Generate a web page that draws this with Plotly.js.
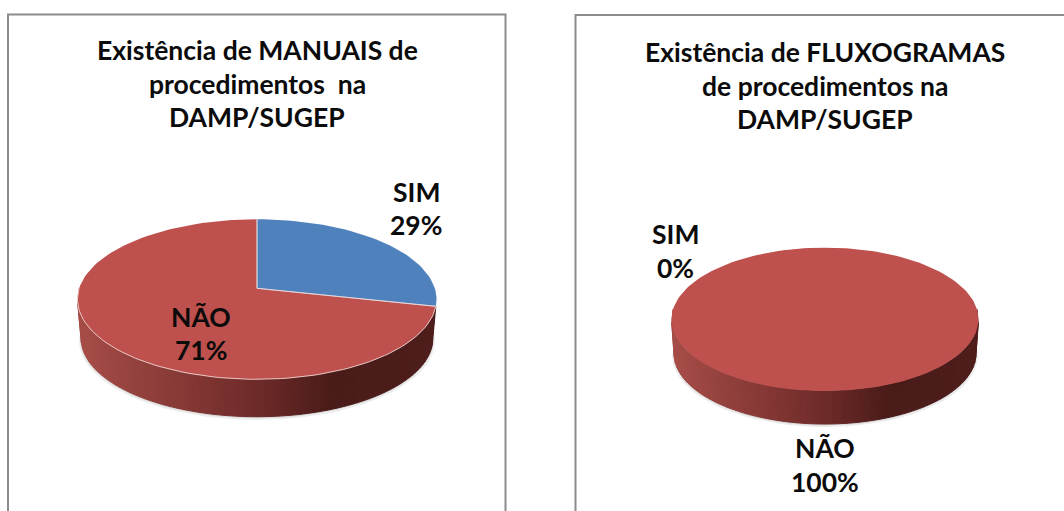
<!DOCTYPE html>
<html>
<head>
<meta charset="utf-8">
<script src="https://cdn.plot.ly/plotly-3.0.1.min.js"></script>
<style>html,body{margin:0;padding:0;background:#fff;overflow:hidden}#c{width:1064px;height:511px}</style>
</head>
<body>
<div id="c"></div>
<script>
// ---- data ----
const categories = ['SIM', 'NÃO'];
const manuaisValues = [2, 5];        // 29% / 71%
const fluxogramasValues = [0, 7];    // 0% / 100%
const manuaisTitle = ['Existência de MANUAIS de', 'procedimentos  na', 'DAMP/SUGEP'];
const fluxogramasTitle = ['Existência de FLUXOGRAMAS', 'de procedimentos na', 'DAMP/SUGEP'];
const sliceColors = ['#4F81BD', '#BE504D'];

// ---- geometry and style (page pixels) ----
const FONT = 'Lato, Carlito, sans-serif';
const TITLE_SIZE = 26.5, LABEL_SIZE = 26.5;
const K = 0.1375;
const pieA = {cx: 257, hub: 288.3, a: 78.5, b: 177.8, depth: 39.2, baseScale: 0.98, rim: true,
  labelPos: [[416, 192, 225], [201, 317, 350]], titleX: 257, titleY: [50, 83.5, 117]};
const pieB = {cx: 825, hub: 309.5, a: 70.3, b: 152, depth: 34.3, baseScale: 0.984, rim: false,
  labelPos: [[675, 234, 268], [825, 448, 482]], titleX: 825, titleY: [52, 85.5, 119]};

const traces = [];
const annotations = [];

function rimPoint(g, t, s, d) {
  s = s || 1; d = d || 0;
  const u = Math.sin(t), v = Math.cos(t), w = 1 + K * v;
  return [g.cx + s * g.b * u / w, g.hub + d - s * g.a * v / w];
}
function poly(xs, ys, color, lw) {
  traces.push({type: 'scatter', mode: 'lines', x: xs, y: ys, fill: 'toself', fillcolor: color,
    line: {color: lw ? color : 'rgba(0,0,0,0)', width: lw || 0}, hoverinfo: 'skip', showlegend: false});
}
function path(xs, ys, color, lw) {
  traces.push({type: 'scatter', mode: 'lines', x: xs, y: ys,
    line: {color: color, width: lw}, hoverinfo: 'skip', showlegend: false});
}
function lerp(a, b, f) { return a.map((c, i) => c + (b[i] - c) * f); }
function sideColor(u) {
  const stops = [[-1, [166, 76, 71]], [0, [110, 42, 40]], [0.42, [73, 27, 25]], [1, [78, 29, 27]]];
  for (let i = 0; i < stops.length - 1; i++) {
    if (u <= stops[i + 1][0]) {
      const c = lerp(stops[i][1], stops[i + 1][1], (u - stops[i][0]) / (stops[i + 1][0] - stops[i][0]));
      return 'rgb(' + c.map(Math.round).join(',') + ')';
    }
  }
  return 'rgb(78,29,27)';
}

function drawPie(values, g, titleLines) {
  const total = values.reduce((a, b) => a + b, 0);
  const firstEnd = values[0] / total * 2 * Math.PI;
  const tStart = Math.max(firstEnd, Math.PI / 2), tEnd = 1.5 * Math.PI;

  // soft shadow under the base
  [[1.012, 2.2, 'rgba(0,0,0,0.07)'], [1.004, 1.1, 'rgba(0,0,0,0.10)']].forEach(([s, off, col]) => {
    const xs = [], ys = [];
    for (let i = 0; i <= 90; i++) {
      const p = rimPoint(g, i / 90 * 2 * Math.PI, g.baseScale * s, g.depth + off);
      xs.push(p[0]); ys.push(p[1]);
    }
    poly(xs, ys, col);
  });

  // side wall in strips of equal width, shaded along the horizontal position
  const STRIPS = 110;
  const ts = [];
  for (let i = 0; i <= STRIPS; i++) {
    const t = Math.PI - Math.asin(1 - 2 * i / STRIPS);
    if (t > tStart) ts.push(t);
  }
  ts.unshift(tStart);
  for (let i = 0; i < ts.length - 1; i++) {
    const t0 = Math.min(ts[i], tEnd), t1 = Math.min(ts[i + 1], tEnd);
    const a = rimPoint(g, t0), b = rimPoint(g, t1);
    const c = rimPoint(g, t1, g.baseScale, g.depth), d = rimPoint(g, t0, g.baseScale, g.depth);
    const u = ((a[0] + b[0]) / 2 - g.cx) / g.b;
    poly([a[0], b[0], c[0], d[0], a[0]], [a[1], b[1], c[1], d[1], a[1]], sideColor(u), 1);
  }

  // top surface slices
  let acc = 0;
  const edges = [];
  values.forEach((v, idx) => {
    if (v > 0) {
      const t0 = acc / total * 2 * Math.PI, t1 = (acc + v) / total * 2 * Math.PI;
      const full = v === total;
      const xs = full ? [] : [g.cx], ys = full ? [] : [g.hub];
      const n = Math.max(8, Math.round(160 * v / total));
      for (let i = 0; i <= n; i++) {
        const p = rimPoint(g, t0 + (t1 - t0) * i / n);
        xs.push(p[0]); ys.push(p[1]);
      }
      if (!full) { xs.push(g.cx); ys.push(g.hub); edges.push(t0, t1); }
      poly(xs, ys, sliceColors[idx]);
    }
    acc += v;
  });

  // light rim along the front edge and between slices
  if (g.rim) {
    const xs = [], ys = [];
    for (let i = 0; i <= 90; i++) {
      const p = rimPoint(g, tStart + (tEnd - tStart) * i / 90);
      xs.push(p[0]); ys.push(p[1]);
    }
    path(xs, ys, 'rgba(245,222,220,0.85)', 1);
    edges.forEach(t => {
      const p = rimPoint(g, t);
      path([g.cx, p[0]], [g.hub, p[1]], 'rgba(235,225,230,0.7)', 1);
    });
  }

  // texts
  const note = (x, y, text, size) => annotations.push({xref: 'x', yref: 'y', x, y, text, showarrow: false,
    xanchor: 'center', yanchor: 'middle', font: {family: FONT, size, color: '#0b0b0b', weight: 'bold'}});
  titleLines.forEach((line, i) => note(g.titleX, g.titleY[i], line, TITLE_SIZE));
  values.forEach((v, i) => {
    const [x, y1, y2] = g.labelPos[i];
    note(x, y1, categories[i], LABEL_SIZE);
    note(x, y2, Math.round(v / total * 100) + '%', LABEL_SIZE);
  });
}

drawPie(manuaisValues, pieA, manuaisTitle);
drawPie(fluxogramasValues, pieB, fluxogramasTitle);

const frame = {color: '#8c8c8c', width: 2};
const layout = {
  width: 1064, height: 511, margin: {l: 0, r: 0, t: 0, b: 0},
  paper_bgcolor: '#fff', plot_bgcolor: '#fff', showlegend: false,
  xaxis: {range: [0, 1064], visible: false, fixedrange: true},
  yaxis: {range: [511, 0], visible: false, fixedrange: true},
  annotations,
  shapes: [
    {type: 'rect', xref: 'x', yref: 'y', x0: 8, x1: 505.5, y0: 14.5, y1: 530, line: frame, layer: 'below'},
    {type: 'rect', xref: 'x', yref: 'y', x0: 575.5, x1: 1090, y0: 15, y1: 530, line: frame, layer: 'below'}
  ]
};
Plotly.newPlot('c', traces, layout, {staticPlot: true, displayModeBar: false});
</script>
</body>
</html>
